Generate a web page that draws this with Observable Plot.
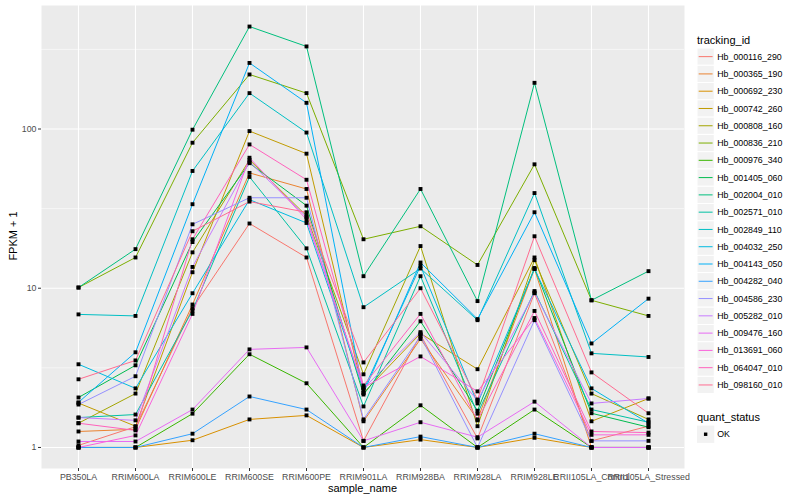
<!DOCTYPE html>
<html>
<head>
<meta charset="utf-8">
<script src="https://cdn.jsdelivr.net/npm/d3@7"></script>
<script src="https://cdn.jsdelivr.net/npm/@observablehq/plot@0.6"></script>
<style>
  body { margin: 0; background: white; }
  #wrap { position: relative; width: 800px; height: 500px; font-family: "Liberation Sans", Arial, sans-serif; }
  #wrap svg { position: absolute; left: 0; top: 0; }
  .ttl { position: absolute; font-size: 11px; color: #000; white-space: nowrap; }
</style>
</head>
<body>
<div id="wrap"></div>
<script>
const samples = ["PB350LA","RRIM600LA","RRIM600LE","RRIM600SE","RRIM600PE","RRIM901LA","RRIM928BA","RRIM928LA","RRIM928LE","RRII105LA_Control","RRII105LA_Stressed"];

const trackingIds = ["Hb_000116_290","Hb_000365_190","Hb_000692_230","Hb_000742_260","Hb_000808_160","Hb_000836_210","Hb_000976_340","Hb_001405_060","Hb_002004_010","Hb_002571_010","Hb_002849_110","Hb_004032_250","Hb_004143_050","Hb_004282_040","Hb_004586_230","Hb_005282_010","Hb_009476_160","Hb_013691_060","Hb_064047_010","Hb_098160_010"];

const seriesColors = ["#F8766D","#EA8331","#D89000","#C09B00","#A3A500","#7CAE00","#39B600","#00BB4E","#00BF7D","#00C1A3","#00BFC4","#00BAE0","#00B0F6","#35A2FF","#9590FF","#C77CFF","#E76BF3","#FA62DB","#FF62BC","#FF6C91"];

// FPKM + 1 per sample, one array per tracking_id (legend order)
const v_000116_290 = [1.03, 1.35, 7.5, 25.5, 15.6, 1.1, 5.1, 1.14, 9.3, 1.1, 1.36];
const v_000365_190 = [1.26, 1.3, 7.9, 53, 42, 1.46, 4.8, 1.5, 13.2, 1.0, 1.0];
const v_000692_230 = [1.0, 1.0, 1.11, 1.5, 1.59, 1.0, 1.12, 1.0, 1.15, 1.0, 1.0];
const v_000742_260 = [1.9, 1.36, 12.6, 97, 70, 2.2, 5.2, 3.1, 15.6, 1.46, 2.03];
const v_000808_160 = [1.42, 2.18, 16.8, 64, 28.5, 2.88, 18.4, 1.36, 15, 2.18, 1.5];
const v_000836_210 = [10.1, 15.6, 82, 220, 168, 20.3, 24.5, 14, 60, 8.4, 6.7];
const v_000976_340 = [1.0, 1.0, 1.63, 3.85, 2.53, 1.0, 1.84, 1.0, 1.73, 1.0, 1.0];
const v_001405_060 = [2.06, 3.28, 19.5, 61, 33, 2.15, 6.2, 1.7, 13.4, 1.64, 1.34];
const v_002004_010 = [10.1, 17.6, 99, 440, 330, 11.9, 42, 8.3, 195, 8.4, 12.8];
const v_002571_010 = [1.54, 1.61, 7.25, 50, 17.8, 1.81, 11.9, 1.63, 9.6, 1.73, 1.44];
const v_002849_110 = [6.85, 6.7, 54.5, 168, 95, 7.6, 13.3, 6.3, 39.6, 3.9, 3.7];
const v_004032_250 = [3.33, 2.35, 9.3, 36, 25.7, 2.3, 13.8, 1.89, 13.2, 2.35, 1.42];
const v_004143_050 = [1.92, 3.96, 33.7, 260, 146, 2.2, 14.5, 6.4, 30, 4.5, 8.6];
const v_004282_040 = [1.0, 1.0, 1.22, 2.09, 1.73, 1.0, 1.17, 1.0, 1.22, 1.0, 1.0];
const v_004586_230 = [1.86, 2.8, 25.2, 37, 37, 1.5, 5.0, 1.0, 6.3, 1.1, 1.1];
const v_005282_010 = [1.54, 1.48, 13.6, 62, 28, 2.35, 5.3, 1.97, 9.4, 1.89, 2.03];
const v_009476_160 = [1.09, 1.09, 1.73, 4.13, 4.25, 1.1, 1.44, 1.16, 1.94, 1.0, 1.0];
const v_013691_060 = [1.0, 1.19, 6.9, 66, 27, 2.38, 3.73, 2.25, 6.5, 1.2, 1.2];
const v_064047_010 = [1.42, 1.28, 20.3, 80, 48, 2.45, 6.9, 1.48, 7.2, 1.26, 1.24];
const v_098160_010 = [2.68, 3.52, 22.8, 35, 30, 3.42, 10, 2.0, 21.2, 2.96, 1.64];

const yMajor = [1, 10, 100];
const yMinor = [Math.pow(10, 0.5), Math.pow(10, 1.5), Math.pow(10, 2.5)];
const quantStatus = ["OK"];

const allValues = [v_000116_290, v_000365_190, v_000692_230, v_000742_260, v_000808_160, v_000836_210, v_000976_340, v_001405_060, v_002004_010, v_002571_010, v_002849_110, v_004032_250, v_004143_050, v_004282_040, v_004586_230, v_005282_010, v_009476_160, v_013691_060, v_064047_010, v_098160_010];

const data = trackingIds.flatMap((id, i) => samples.map((s, j) => ({id, sample: s, value: allValues[i][j], status: "OK"})));

// ggplot-like 5% expansion on log scale
const lmin = Math.log10(d3.min(data, d => d.value));
const lmax = Math.log10(d3.max(data, d => d.value));
const ex = (lmax - lmin) * 0.05;
const yDomain = [Math.pow(10, lmin - ex), Math.pow(10, lmax + ex)];

const W = 800, H = 500, mL = 41, mR = 116, mT = 5, mB = 32;

const chart = Plot.plot({
  width: W, height: H,
  marginLeft: mL, marginRight: mR, marginTop: mT, marginBottom: mB,
  style: { fontFamily: "'Liberation Sans', Arial, sans-serif", fontSize: "8.8px", background: "white", overflow: "visible" },
  x: { type: "point", domain: samples, padding: 0.6, label: null },
  y: { type: "log", domain: yDomain, label: null },
  color: { domain: trackingIds, range: seriesColors },
  marks: [
    Plot.frame({ fill: "#EBEBEB", stroke: null }),
    Plot.ruleY(yMinor, { stroke: "white", strokeWidth: 0.55 }),
    Plot.ruleY(yMajor, { stroke: "white", strokeWidth: 1.1 }),
    Plot.ruleX(samples, { stroke: "white", strokeWidth: 1.1 }),
    Plot.line(data, { x: "sample", y: "value", z: "id", stroke: "id", strokeWidth: 1 }),
    Plot.dot(data, { x: "sample", y: "value", fill: "black", r: 2.2, symbol: "square", stroke: null }),
    Plot.axisX({ tickSize: 3, tickPadding: 2, stroke: "#333333", fill: "#4D4D4D", label: null }),
    Plot.axisY({ ticks: yMajor, tickFormat: d => String(d), tickSize: 3, tickPadding: 2, stroke: "#333333", fill: "#4D4D4D", label: null })
  ]
});

const wrap = document.getElementById("wrap");
wrap.appendChild(chart);

// axis titles
const yt = document.createElement("div");
yt.className = "ttl";
yt.textContent = "FPKM + 1";
yt.style.left = "13px"; yt.style.top = "236px";
yt.style.transform = "translate(-50%, -50%) rotate(-90deg)";
wrap.appendChild(yt);

const xt = document.createElement("div");
xt.className = "ttl";
xt.textContent = "sample_name";
xt.style.left = (mL + (W - mR - mL) / 2) + "px"; xt.style.top = "488px";
xt.style.transform = "translate(-50%, -50%)";
wrap.appendChild(xt);

// legend
const leg = d3.create("svg").attr("width", W).attr("height", H)
  .style("font-family", "'Liberation Sans', Arial, sans-serif")
  .style("pointer-events", "none");
const lx = 697, key = 17.28, y0 = 48;
leg.append("text").attr("x", lx).attr("y", 44).attr("font-size", 11).text("tracking_id");
trackingIds.forEach((id, i) => {
  const yy = y0 + i * key;
  leg.append("rect").attr("x", lx).attr("y", yy).attr("width", key).attr("height", key).attr("fill", "#F2F2F2").attr("stroke", "white").attr("stroke-width", 1);
  leg.append("line").attr("x1", lx + 1.7).attr("x2", lx + key - 1.7).attr("y1", yy + key / 2).attr("y2", yy + key / 2).attr("stroke", seriesColors[i]).attr("stroke-width", 1);
  leg.append("text").attr("x", lx + key + 3).attr("y", yy + key / 2).attr("dy", "0.35em").attr("font-size", 8.8).text(id);
});
const qy = y0 + trackingIds.length * key + 22;
leg.append("text").attr("x", lx).attr("y", qy + 5).attr("font-size", 11).text("quant_status");
quantStatus.forEach((q, i) => {
  const yy = qy + 10 + i * key;
  leg.append("rect").attr("x", lx).attr("y", yy).attr("width", key).attr("height", key).attr("fill", "#F2F2F2");
  leg.append("rect").attr("x", lx + key / 2 - 1.7).attr("y", yy + key / 2 - 1.7).attr("width", 3.4).attr("height", 3.4).attr("fill", "black");
  leg.append("text").attr("x", lx + key + 3).attr("y", yy + key / 2).attr("dy", "0.35em").attr("font-size", 8.8).text(q);
});
wrap.appendChild(leg.node());
</script>
</body>
</html>
